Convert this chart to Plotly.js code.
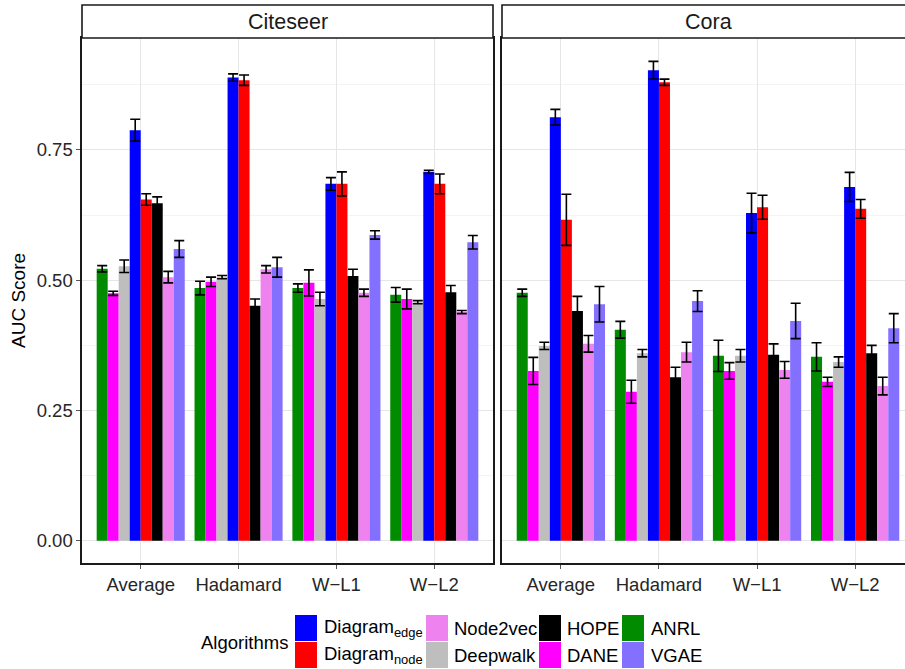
<!DOCTYPE html>
<html>
<head>
<meta charset="utf-8">
<script src="https://cdn.plot.ly/plotly-3.0.1.min.js"></script>
<style>
html,body{margin:0;padding:0;overflow:hidden;background:#fff;}
#chart{width:920px;height:669px;}
</style>
</head>
<body>
<div id="chart"></div>
<script>
// ---------- data ----------
const categories = ['Average', 'Hadamard', 'W\u2212L1', 'W\u2212L2'];
const algorithms = ['ANRL', 'DANE', 'Deepwalk', 'Diagram_edge', 'Diagram_node', 'HOPE', 'Node2vec', 'VGAE'];
const algoLabels = ['ANRL', 'DANE', 'Deepwalk', 'Diagram<sub>edge</sub>', 'Diagram<sub>node</sub>', 'HOPE', 'Node2vec', 'VGAE'];
const algoColors = ['#008B00', '#FF00FF', '#BEBEBE', '#0000FF', '#FF0000', '#000000', '#EE82EE', '#8470FF'];
const datasets = ['Citeseer', 'Cora'];

// rows follow `algorithms`, columns follow `categories`
const citeseerMean = [
  [0.522, 0.485, 0.485, 0.472],
  [0.475, 0.497, 0.495, 0.464],
  [0.527, 0.506, 0.464, 0.458],
  [0.788, 0.889, 0.685, 0.708],
  [0.655, 0.884, 0.685, 0.685],
  [0.648, 0.451, 0.508, 0.477],
  [0.506, 0.521, 0.476, 0.439],
  [0.560, 0.525, 0.587, 0.573]
];
const citeseerErr = [
  [0.006, 0.013, 0.008, 0.014],
  [0.004, 0.009, 0.025, 0.019],
  [0.012, 0.003, 0.013, 0.003],
  [0.021, 0.007, 0.012, 0.003],
  [0.011, 0.010, 0.023, 0.019],
  [0.012, 0.013, 0.013, 0.013],
  [0.011, 0.007, 0.007, 0.003],
  [0.016, 0.019, 0.008, 0.013]
];
const coraMean = [
  [0.476, 0.405, 0.355, 0.353],
  [0.326, 0.286, 0.326, 0.305],
  [0.374, 0.360, 0.355, 0.343],
  [0.813, 0.903, 0.629, 0.679],
  [0.616, 0.880, 0.640, 0.637],
  [0.441, 0.314, 0.357, 0.360],
  [0.378, 0.362, 0.328, 0.297],
  [0.454, 0.460, 0.422, 0.408]
];
const coraErr = [
  [0.007, 0.016, 0.030, 0.027],
  [0.026, 0.022, 0.016, 0.009],
  [0.007, 0.007, 0.012, 0.010],
  [0.015, 0.017, 0.038, 0.028],
  [0.049, 0.006, 0.023, 0.018],
  [0.028, 0.019, 0.021, 0.015],
  [0.016, 0.019, 0.016, 0.017],
  [0.034, 0.020, 0.034, 0.028]
];
const yTickVals = [0, 0.25, 0.5, 0.75];
// legend grid, column by column
const legendColumns = [['Diagram_edge', 'Diagram_node'], ['Node2vec', 'Deepwalk'], ['HOPE', 'DANE'], ['ANRL', 'VGAE']];

// ---------- layout geometry ----------
const W = 920, H = 669;
const M = {l: 82, r: 6, t: 38, b: 106};
const PW = W - M.l - M.r, PH = H - M.t - M.b;
const px = x => (x - M.l) / PW;          // pixel -> paper x
const py = y => (H - M.b - y) / PH;      // pixel -> paper y
const FONT = 'Liberation Sans, Arial, Helvetica, sans-serif';

const traces = [];
const means = [citeseerMean, coraMean];
const errs = [citeseerErr, coraErr];
datasets.forEach((ds, d) => {
  algorithms.forEach((a, i) => {
    traces.push({
      type: 'bar',
      name: a,
      x: categories,
      y: means[d][i],
      xaxis: d === 0 ? 'x' : 'x2',
      yaxis: d === 0 ? 'y' : 'y2',
      marker: {color: algoColors[i], line: {width: 0}},
      error_y: {type: 'data', array: errs[d][i], visible: true, color: '#000', thickness: 1.6, width: 5},
      showlegend: false,
      hoverinfo: 'skip'
    });
  });
});

const xBase = {
  type: 'category',
  range: [-0.6, 3.6],
  showgrid: true, gridcolor: '#E6E6E6', gridwidth: 1,
  showline: true, linecolor: '#1a1a1a', linewidth: 1.6, mirror: true,
  ticks: 'outside', ticklen: 4, tickcolor: '#555', tickwidth: 1,
  tickfont: {family: FONT, size: 18.5, color: '#262626'},
  zeroline: false, fixedrange: true
};
const yBase = {
  range: [-0.0426, 0.9649],
  tickvals: yTickVals, tickformat: '.2f',
  showgrid: true, gridcolor: '#E6E6E6', gridwidth: 1,
  minor: {dtick: 0.125, tick0: 0, showgrid: true, gridcolor: '#F0F0F0', gridwidth: 0.7, ticks: ''},
  showline: true, linecolor: '#1a1a1a', linewidth: 1.6, mirror: true,
  ticks: 'outside', ticklen: 4, tickcolor: '#555', tickwidth: 1,
  tickfont: {family: FONT, size: 18.5, color: '#262626'},
  zeroline: false, fixedrange: true
};

const shapes = [];
const annotations = [];
const stripH = 33 / PH;
['x', 'x2'].forEach((ax, d) => {
  shapes.push({type: 'rect', xref: ax + ' domain', yref: 'paper', x0: 0, x1: 1, y0: 1, y1: 1 + stripH,
    line: {color: '#1a1a1a', width: 1.6}, fillcolor: '#FFFFFF', layer: 'above'});
  annotations.push({xref: ax + ' domain', yref: 'paper', x: 0.5, y: 1 + stripH / 2, text: datasets[d],
    showarrow: false, xanchor: 'center', yanchor: 'middle', font: {family: FONT, size: 21.5, color: '#1a1a1a'}});
});

// ---------- legend (drawn manually in a 2 x 4 grid) ----------
annotations.push({xref: 'paper', yref: 'paper', x: px(199), y: py(642), text: 'Algorithms', showarrow: false,
  xanchor: 'left', yanchor: 'middle', font: {family: FONT, size: 18.5, color: '#000'}});
const keyLeft = [295, 426, 539, 622];
const labelLeft = [322, 452, 565, 649];
const rowTop = [615, 642];
legendColumns.forEach((col, c) => {
  col.forEach((name, r) => {
    const i = algorithms.indexOf(name);
    shapes.push({type: 'rect', xref: 'paper', yref: 'paper', x0: px(keyLeft[c]), x1: px(keyLeft[c] + 22),
      y0: py(rowTop[r] + 26), y1: py(rowTop[r]), line: {width: 0}, fillcolor: algoColors[i]});
    annotations.push({xref: 'paper', yref: 'paper', x: px(labelLeft[c]), y: py(rowTop[r] + 13),
      text: algoLabels[i], showarrow: false, xanchor: 'left', yanchor: 'middle',
      font: {family: FONT, size: 18.5, color: '#000'}});
  });
});

const layout = {
  width: W, height: H,
  margin: M,
  paper_bgcolor: '#FFFFFF', plot_bgcolor: '#FFFFFF',
  barmode: 'group', bargap: 0.1, bargroupgap: 0,
  showlegend: false,
  font: {family: FONT},
  xaxis: Object.assign({}, xBase, {domain: [0, px(493)], anchor: 'y'}),
  xaxis2: Object.assign({}, xBase, {domain: [px(502), 1], anchor: 'y2'}),
  yaxis: Object.assign({}, yBase, {anchor: 'x',
    title: {text: 'AUC Score', font: {family: FONT, size: 19, color: '#000'}, standoff: 6}}),
  yaxis2: Object.assign({}, yBase, {anchor: 'x2', matches: 'y', showticklabels: false, ticks: ''}),
  shapes: shapes,
  annotations: annotations
};

Plotly.newPlot('chart', traces, layout, {displayModeBar: false, staticPlot: true});
</script>
</body>
</html>
